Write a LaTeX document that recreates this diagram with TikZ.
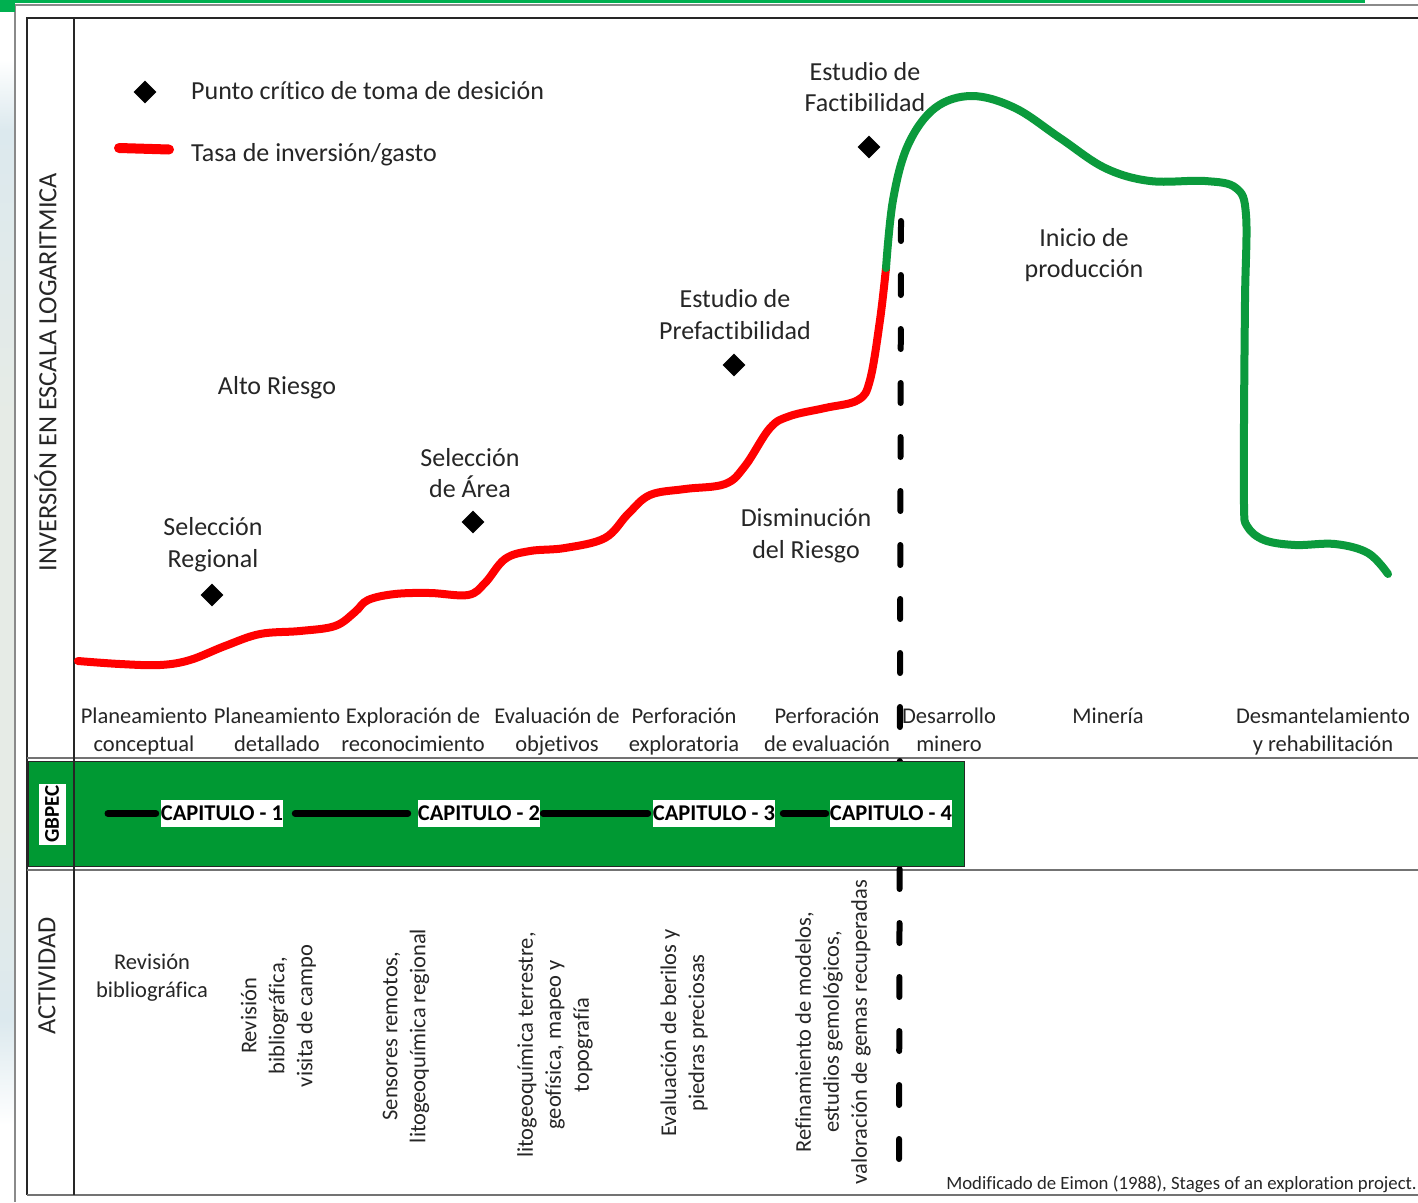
\documentclass[tikz,border=0pt]{standalone}
\usepackage{fontspec}
\setmainfont[Ligatures=NoCommon]{Carlito}
\usetikzlibrary{shapes.geometric}
\definecolor{gboxgreen}{HTML}{009933}
\definecolor{curvegreen}{HTML}{0B9A3C}
\definecolor{topgreen}{HTML}{00B050}
\definecolor{framegray}{HTML}{8A8A8A}
\definecolor{txt}{HTML}{262626}
\definecolor{bgblue}{HTML}{DCE9EE}
\definecolor{bggrey}{HTML}{E6EBE6}
\newcommand{\twolines}[2]{\strut #1\\\strut #2}
\tikzset{
  lab/.style={font=\fontsize{26}{31.5}\selectfont,text=txt,align=center,inner sep=0pt},
  phase/.style={font=\fontsize{22.5}{27.5}\selectfont,text=txt,align=center,inner sep=0pt},
  act/.style={font=\fontsize{22.5}{28}\selectfont,text=txt,align=center,inner sep=0pt,rotate=90},
  axislab/.style={font=\fontsize{26.3}{30}\selectfont,text=txt,inner sep=0pt,rotate=90},
  capbox/.style={font=\bfseries\fontsize{22.5}{24}\selectfont,fill=white,text=black,inner sep=0pt,minimum height=27pt,minimum width=122pt},
  crit/.style={diamond,fill=black,inner sep=0pt,minimum width=23pt,minimum height=23pt},
  frameline/.style={line width=1.4pt,draw=black!85},
  rowline/.style={line width=2pt,draw=black!55},
  curve/.style={line width=8pt,line cap=round,line join=round},
  chapline/.style={line width=7pt,line cap=round,draw=black}
}
\begin{document}
\begin{tikzpicture}[x=1pt,y=-1pt]
\useasboundingbox (0,0) rectangle (1418,1202);
% page background
\fill[white] (0,0) rectangle (1418,1202);
\shade[top color=white,bottom color=bgblue] (0,60) rectangle (15,130);
\shade[top color=bgblue,bottom color=bggrey] (0,130) rectangle (15,420);
\fill[bggrey] (0,420) rectangle (15,820);
\shade[top color=bggrey,bottom color=bgblue] (0,820) rectangle (15,1020);
\shade[top color=bgblue,bottom color=white] (0,1020) rectangle (15,1125);
\draw[line width=2pt,framegray] (15,5) -- (1418,5);
\draw[line width=2pt,framegray] (15,4) -- (15,1202);
\fill[topgreen] (0,0) rectangle (1365,3);
\fill[topgreen] (0,0) rectangle (15,12);
% frame
\draw[frameline] (1418,18) -- (27,18) -- (27,1195);
\draw[rowline] (27,1195) -- (1418,1195);
\draw[rowline] (27,758) -- (1418,758);
\draw[rowline] (27,870) -- (1418,870);
% dashed boundary
\coordinate (dashtop) at (901,221);
\coordinate (dashbot) at (899,1160);
\draw[line width=6pt,line cap=round,dash pattern=on 20pt off 34pt,black] (dashtop) -- (dashbot);
% GBPEC band
\node[draw=black!85,line width=1pt,fill=gboxgreen,minimum width=936pt,minimum height=105pt,inner sep=0pt,anchor=north west] (band) at (28,761) {};
\draw[frameline] (74,18) -- (74,1195);
\node[font=\bfseries\fontsize{21}{24}\selectfont,fill=white,text=black,rotate=90,inner sep=0pt,minimum width=61pt,minimum height=27pt] (gbpec) at (52,814) {GBPEC};
\coordinate (chapstart) at (108,813.5);
\node[capbox] (c1) at (222,813.5) {CAPITULO - 1};
\node[capbox] (c2) at (479,813.5) {CAPITULO - 2};
\node[capbox] (c3) at (714,813.5) {CAPITULO - 3};
\node[capbox] (c4) at (891,813.5) {CAPITULO - 4};
\draw[chapline] (chapstart) -- ([xshift=-5pt]c1.west);
\draw[chapline] ([xshift=12pt]c1.east) -- ([xshift=-10pt]c2.west);
\draw[chapline] ([xshift=3pt]c2.east) -- ([xshift=-5pt]c3.west);
\draw[chapline] ([xshift=8pt]c3.east) -- ([xshift=-4pt]c4.west);
% axis labels
\node[axislab] (ylog) at (45.5,372) {INVERSIÓN EN ESCALA LOGARITMICA};
\node[axislab] (yact) at (47,976) {ACTIVIDAD};
% legend
\node[crit] (legd) at (145,92) {};
\node[lab,anchor=west] (legdt) at (191,91) {Punto crítico de toma de desición};
\coordinate (legra) at (119,148);
\coordinate (legrb) at (169,149.5);
\draw[line width=10pt,line cap=round,red] (legra) -- (legrb);
\node[lab,anchor=west] (legrt) at (191,154.5) {Tasa de inversión/gasto};
% curve
\draw[curve,red] plot[smooth,tension=0.6] coordinates {(78,661) (120,664) (160,665) (190,660) (225,646) (260,634) (300,631) (335,626) (355,612) (368,600) (395,594) (430,593) (468,595) (485,583) (505,559) (530,551) (565,548) (605,538) (628,514) (650,495) (685,489) (725,484) (745,466) (770,428) (790,416) (825,408) (858,400) (870,380) (880,320) (886,268)};
\draw[curve,curvegreen] plot[smooth,tension=0.6] coordinates {(886,268) (893,200) (908,145) (935,108) (972,96) (1015,108) (1060,138) (1105,168) (1150,181) (1205,181) (1236,188) (1246,215) (1245,300) (1244,420) (1244,505) (1247,526) (1264,540) (1295,545) (1335,544) (1368,553) (1388,574)};
% decision points
\node[crit] (d1) at (212,595) {};
\node[crit] (d2) at (473,522) {};
\node[crit] (d3) at (734,365) {};
\node[crit] (d4) at (869,147) {};
% labels on chart
\node[lab] (t1) at (213,544.5) {Selección\\Regional};
\node[lab] (t2) at (470,473) {Selección\\de Área};
\node[lab] (t3) at (735,314.5) {Estudio de\\Prefactibilidad};
\node[lab] (t4) at (865,87) {Estudio de\\Factibilidad};
\node[lab] (t5) at (277,388) {Alto Riesgo};
\node[lab] (t6) at (806,536) {Disminución\\del Riesgo};
\node[lab] (t7) at (1084,255) {Inicio de\\producción};
% phases
\node[phase] (p1) at (144,732) {\twolines{Planeamiento}{conceptual}};
\node[phase] (p2) at (277,732) {\twolines{Planeamiento}{detallado}};
\node[phase] (p3) at (413,732) {\twolines{Exploración de}{reconocimiento}};
\node[phase] (p4) at (557,732) {\twolines{Evaluación de}{objetivos}};
\node[phase] (p5) at (684,732) {\twolines{Perforación}{exploratoria}};
\node[phase] (p6) at (827,732) {\twolines{Perforación}{de evaluación}};
\node[phase] (p7) at (949,732) {\twolines{Desarrollo}{minero}};
\node[phase] (p8) at (1108,718) {\strut Minería};
\node[phase] (p9) at (1323,732) {\twolines{Desmantelamiento}{y rehabilitación}};
% activities
\node[font=\fontsize{22.5}{27.5}\selectfont,text=txt,align=center,inner sep=0pt] (a1) at (152,977.5) {Revisión\\bibliográfica};
\node[act] (a2) at (278.5,1016) {Revisión\\bibliográfica,\\visita de campo};
\node[act] (a3) at (406,1036) {Sensores remotos,\\litogeoquímica regional};
\node[act] (a4) at (555,1045) {litogeoquímica terrestre,\\geofísica, mapeo y\\topografía};
\node[act] (a5) at (684,1033) {Evaluación de berilos y\\piedras preciosas};
\node[act] (a6) at (833,1032) {Refinamiento de modelos,\\estudios gemológicos,\\valoración de gemas recuperadas};
\node[font=\fontsize{18.75}{22}\selectfont,text=txt,inner sep=0pt,anchor=east] (src) at (1417,1184) {Modificado de Eimon (1988), Stages of an exploration project.};
\end{tikzpicture}
\end{document}
